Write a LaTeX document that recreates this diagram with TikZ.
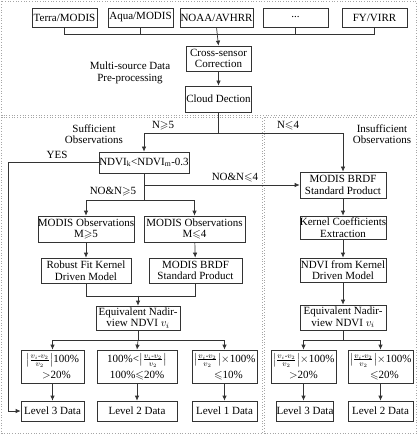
\documentclass[tikz,border=0pt]{standalone}
\usepackage{amsmath,amssymb}
\usepackage{fontspec}
\setmainfont{Liberation Serif}
\usetikzlibrary{arrows.meta}
\begin{document}
\begin{tikzpicture}[x=1pt,y=-1pt,
  font=\fontsize{11}{11.5}\selectfont,
  box/.style={draw=black!80,line width=0.7pt,align=center,inner sep=0pt,minimum height=#1},
  box/.default=25,
  fbox/.style={box=33,font=\fontsize{11}{16}\selectfont},
  conn/.style={draw=black!80,line width=0.7pt},
  arr/.style={conn,-{Latex[length=5pt,width=4.5pt]}},
  frame/.style={draw=black!35,dotted,line width=0.7pt},
  lbl/.style={align=center,inner sep=0pt}]
\useasboundingbox (0,0) rectangle (418,435);
% frames
\draw[frame] (1.5,1.5) rectangle (416,115.5);
\draw[frame] (1.5,117.5) rectangle (262,433.5);
\draw[frame] (264.5,117.5) rectangle (416,433.5);
% top row
\node[box=19,minimum width=65] (terra) at (64.5,17.5) {Terra/MODIS};
\node[box=19,minimum width=65] (aqua) at (140.5,17.5) {Aqua/MODIS};
\node[box=19,minimum width=73] (noaa) at (216.5,17.5) {NOAA/AVHRR};
\node[box=19,minimum width=65] (dots) at (295.5,17.5) {...};
\node[box=19,minimum width=65] (fy) at (374.5,17.5) {FY/VIRR};
\node[box=25,minimum width=65] (cross) at (218.5,58.5) {Cross-sensor\\Correction};
\node[box=26,minimum width=66] (cloud) at (218.5,99) {Cloud Dection};
\node[lbl] (pre) at (130,73) {Multi-source Data\\Pre-processing};
\draw[conn] (terra.south) -- ++(0,7) -| (fy.south);
\draw[conn] (aqua.south) -- ++(0,7);
\draw[conn] (dots.south) -- ++(0,7);
\draw[arr] (noaa.south) -- (cross.north);
\draw[arr] (cross.south) -- (cloud.north);
% left/right split
\node[box=21,minimum width=90] (ndvi) at (144,162.5) {NDVI\textsubscript{k}<NDVI\textsubscript{m}-0.3};
\node[box=26,minimum width=86] (brdfR) at (343,185) {MODIS BRDF\\Standard Product};
\draw[conn] (cloud.south) -- ++(0,21) coordinate (s1);
\draw[arr] (s1) -| (ndvi.north);
\draw[arr] (s1) -| (brdfR.north);
\node[lbl] (lN5) at (163,126) {N$\geqslant$5};
\node[lbl] (lN4) at (288,126) {N$\leqslant$4};
\node[lbl] (suff) at (94,134) {Sufficient\\Observations};
\node[lbl] (insuff) at (382,134) {Insufficient\\Observations};
% left column
\node[box=26,minimum width=94] (obs5) at (86,229) {MODIS Observations\\M$\geqslant$5};
\node[box=26,minimum width=101] (obs4) at (194.5,229) {MODIS Observations\\M$\leqslant$4};
\node[box=25,minimum width=90] (robust) at (86,270.5) {Robust Fit Kernel\\Driven Model};
\node[box=25,minimum width=93] (brdfL) at (195.5,270.5) {MODIS BRDF\\Standard Product};
\node[box=24,minimum width=84] (equivL) at (138,318) {Equivalent Nadir-\\view NDVI $v_i$};
\node[fbox,minimum width=63] (A) at (52.5,366.5) {$\bigl|\frac{v_i\text{-}v_2}{v_2}\bigr|$100\%\\\hspace*{8pt}$>$20\%};
\node[fbox,minimum width=80] (B) at (137,366.5) {100\%<$\bigl|\frac{v_i\text{-}v_2}{v_2}\bigr|$\\100\%$\leqslant$20\%};
\node[fbox,minimum width=65] (C) at (224.5,366.5) {$\bigl|\frac{v_i\text{-}v_2}{v_2}\bigr|$$\times$100\%\\\hspace*{8pt}$\leqslant$10\%};
\node[box=20,minimum width=63] (L3) at (52.5,411) {Level 3 Data};
\node[box=20,minimum width=80] (L2) at (137,411) {Level 2 Data};
\node[box=20,minimum width=65] (L1) at (224.5,411) {Level 1 Data};
\coordinate (yc) at (8,162.5);
\draw[arr] (ndvi.west) -- (yc) |- (L3.west);
\node[lbl] (yes) at (57,155) {YES};
\draw[arr] (ndvi.south) -- (ndvi.south |- brdfR.west) coordinate (s2a) -- (brdfR.west);
\node[lbl] (lno4) at (235,178) {NO\&N$\leqslant$4};
\draw[conn] (s2a) -- ++(0,15) coordinate (s2);
\draw[arr] (s2) -| (obs5.north);
\draw[arr] (s2) -| (obs4.north);
\node[lbl] (lno5) at (113,192) {NO\&N$\geqslant$5};
\draw[arr] (obs5) -- (robust);
\draw[arr] (obs4) -- (brdfL);
\draw[conn] (robust.south) -- ++(0,13) -| (brdfL.south);
\draw[arr] (equivL.north) ++(0,-10) -- (equivL.north);
\draw[conn] (equivL.south) -- ++(0,10) coordinate (s3);
\draw[arr] (s3) -| (A.north);
\draw[arr] (s3) -- (B.north);
\draw[arr] (s3) -| (C.north);
\draw[arr] (A) -- (L3);
\draw[arr] (B) -- (L2);
\draw[arr] (C) -- (L1);
% right column
\node[box=23,minimum width=86] (kernel) at (343,227.5) {Kernel Coefficients\\Extraction};
\node[box=24,minimum width=86] (ndviK) at (343,270) {NDVI from Kernel\\Driven Model};
\node[box=25,minimum width=86] (equivR) at (343,317.5) {Equivalent Nadir-\\view NDVI $v_i$};
\node[fbox,minimum width=65] (D) at (303.5,366.5) {$\bigl|\frac{v_i\text{-}v_2}{v_2}\bigr|$$\times$100\%\\$>$20\%};
\node[fbox,minimum width=65] (E) at (380.5,366.5) {$\bigl|\frac{v_i\text{-}v_2}{v_2}\bigr|$$\times$100\%\\\hspace*{8pt}$\leqslant$20\%};
\node[box=20,minimum width=56] (L3R) at (305,411) {Level 3 Data};
\node[box=20,minimum width=65] (L2R) at (380.5,411) {Level 2 Data};
\draw[arr] (brdfR) -- (kernel);
\draw[arr] (kernel) -- (ndviK);
\draw[arr] (ndviK) -- (equivR);
\draw[conn] (equivR.south) -- ++(0,10) coordinate (s4);
\draw[arr] (s4) -| (D.north);
\draw[arr] (s4) -| (E.north);
\draw[arr] (D.south) -- (D.south |- L3R.north);
\draw[arr] (E) -- (L2R);
\end{tikzpicture}
\end{document}
